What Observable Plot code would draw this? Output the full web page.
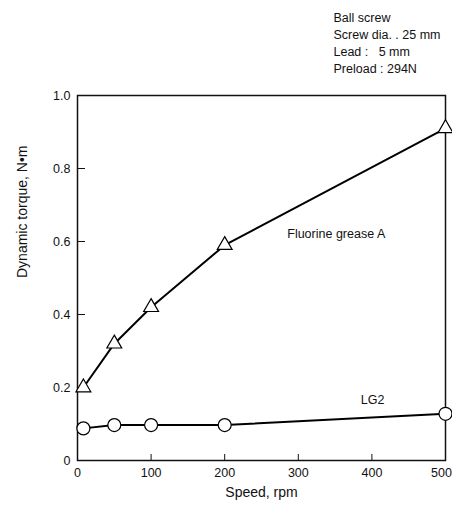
<!DOCTYPE html>
<html>
<head>
<meta charset="utf-8">
<script src="https://cdn.jsdelivr.net/npm/d3@7"></script>
<script src="https://cdn.jsdelivr.net/npm/@observablehq/plot@0.6"></script>
<style>
  html, body { margin: 0; padding: 0; background: #fff; }
  #chart svg { display: block; }
</style>
</head>
<body>
<div id="chart"></div>
<script>
const speeds = [8, 50, 100, 200, 500];
const fluorineA = [0.20, 0.32, 0.42, 0.59, 0.91];
const lg2 = [0.088, 0.097, 0.097, 0.097, 0.128];
const xTicks = [0, 100, 200, 300, 400, 500];
const yTicks = [0, 0.2, 0.4, 0.6, 0.8, 1.0];
const yTickLabels = ["0", "0.2", "0.4", "0.6", "0.8", "1.0"];
const seriesLabels = [
  {name: "Fluorine grease A", x: 285, y: 0.62},
  {name: "LG2", x: 385, y: 0.165}
];
const noteLines = ["Ball screw", "Screw dia. . 25 mm", "Lead :   5 mm", "Preload : 294N"];

const fa = speeds.map((s, i) => ({speed: s, torque: fluorineA[i]}));
const lg = speeds.map((s, i) => ({speed: s, torque: lg2[i]}));

const font = "Liberation Sans, Arial, sans-serif";

const chart = Plot.plot({
  width: 452,
  height: 513,
  marginLeft: 77,
  marginRight: 7,
  marginTop: 95,
  marginBottom: 53,
  style: {fontFamily: font, fontSize: "12px", color: "#111", background: "#fff"},
  x: {domain: [0, 500]},
  y: {domain: [0, 1]},
  marks: [
    Plot.frame({stroke: "#111", strokeWidth: 1.5}),
    Plot.axisY({ticks: yTicks, tickSize: 0, tickPadding: 7, tickFormat: (d) => yTickLabels[yTicks.indexOf(d)], fontSize: 12.5, label: null}),
    Plot.axisY({ticks: yTicks.slice(1, -1), tickSize: -8, text: null, label: null, stroke: "#111"}),
    Plot.axisX({ticks: xTicks.slice(0, -1), tickSize: 0, tickPadding: 8, fontSize: 12.5, label: null}),
    Plot.axisX({ticks: xTicks.slice(-1), tickSize: 0, tickPadding: 8, fontSize: 12.5, label: null, dx: -4}),
    Plot.axisX({ticks: xTicks.slice(1, -1), tickSize: -6, text: null, label: null, stroke: "#111"}),
    Plot.text(["Speed, rpm"], {frameAnchor: "bottom", dy: 32, fontSize: 14, lineAnchor: "middle"}),
    Plot.text(["Dynamic torque, N\u2022m"], {frameAnchor: "left", dx: -55, rotate: -90, fontSize: 14, lineAnchor: "middle"}),
    Plot.line(fa, {x: "speed", y: "torque", stroke: "#000", strokeWidth: 2}),
    Plot.line(lg, {x: "speed", y: "torque", stroke: "#000", strokeWidth: 2}),
    Plot.dot(fa, {x: "speed", y: "torque", symbol: "triangle", r: 5.5, fill: "#fff", stroke: "#000", strokeWidth: 1.2}),
    Plot.dot(lg, {x: "speed", y: "torque", symbol: "circle", r: 6.5, fill: "#fff", stroke: "#000", strokeWidth: 1.2}),
    Plot.text(seriesLabels, {x: "x", y: "y", text: "name", textAnchor: "start", fontSize: 12.5}),
    Plot.text([noteLines.join("\n")], {frameAnchor: "top-right", dx: -112, dy: -86, textAnchor: "start", lineAnchor: "top", lineHeight: 1.38, fontSize: 12.5})
  ]
});
document.getElementById("chart").appendChild(chart);
</script>
</body>
</html>
